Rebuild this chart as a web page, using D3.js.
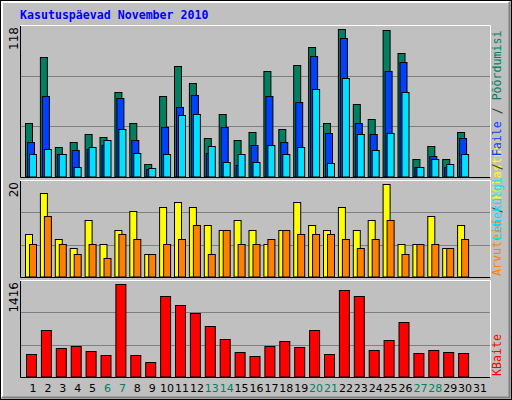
<!DOCTYPE html>
<html><head><meta charset="utf-8">
<script src="https://cdn.jsdelivr.net/npm/d3@7"></script>
<style>body{margin:0;background:#fff}</style></head>
<body><svg id="c" width="512" height="400"></svg>
<script>
const days = d3.range(1,32);
const weekend = [6,7,13,14,20,21,27,28];
const hits  = [42,93,23,27,33,31,66,42,10,63,86,73,30,49,29,35,82,37,87,101,42,115,57,45,114,96,14,24,14,35];
const files = [27,63,18,21,22,25,61,29,6,39,54,64,19,39,9,25,63,27,58,94,34,108,42,33,82,89,8,16,8,30];
const pages = [18,22,18,8,23,29,37,19,7,18,48,49,24,12,18,12,25,18,23,68,11,77,33,21,34,66,8,14,10,18];
const visits= [8.8,17.3,7.8,5.9,11.7,6.9,9.6,13.6,4.8,14.4,15.4,14.4,10.7,9.6,11.7,9.6,6.9,9.6,15.4,10.7,9.6,14.4,9.6,11.7,19.2,6.9,6.9,12.5,5.9,10.7];
const hosts = [6.9,12.5,6.9,4.8,6.9,4.0,8.8,7.8,4.8,6.9,7.8,10.7,4.8,9.6,6.9,6.9,7.8,9.6,8.8,8.8,8.8,7.8,5.9,7.8,11.7,4.8,6.9,6.9,5.9,7.8];
const kbytes= [339,679,428,457,383,324,1357,324,221,1180,1047,929,738,561,369,310,457,531,442,693,339,1269,1180,398,546,797,354,398,369,354];
const maxLabels = ["118","20","1416"];
const maxVals = [118,20,1416];

const svg = d3.select("#c");
svg.append("rect").attr("x",0.5).attr("y",0.5).attr("width",511).attr("height",399).attr("fill","#c0c0c0").attr("stroke","#000");
svg.append("path").attr("d","M2,397V2H509").attr("fill","none").attr("stroke","#fff").attr("stroke-width",2);
svg.append("path").attr("d","M2,397.5H509.5V2").attr("fill","none").attr("stroke","#808080").attr("stroke-width",2);
svg.append("text").attr("x",20).attr("y",19).text("Kasutuspäevad November 2010")
  .attr("font-family","DejaVu Sans Mono").attr("font-weight","bold").attr("font-size",11.6).attr("fill","#0000ff");

const x = d3.scalePoint().domain(days).range([33,480]);
const L=20,R=490;
const panels=[{t:25,b:177},{t:180,b:277},{t:280,b:377}];
const ys = panels.map((p,i)=>d3.scaleLinear().domain([0,maxVals[i]]).range([p.b,p.t]));

panels.forEach((p,i)=>{
  const g=svg.append("g");
  [1/3,2/3].forEach(f=>g.append("line").attr("x1",L).attr("x2",R)
    .attr("y1",Math.round(ys[i](maxVals[i]*f))+0.5).attr("y2",Math.round(ys[i](maxVals[i]*f))+0.5).attr("stroke","#808080"));
  g.append("path").attr("d",`M${L+0.5},${p.t}V${p.b+0.5}H${R}`).attr("fill","none").attr("stroke","#000");
  g.append("path").attr("d",`M${L},${p.t+0.5}H${R+0.5}V${p.b}`).attr("fill","none").attr("stroke","#fff");
  g.append("text").attr("transform",`translate(18,${p.t+2}) rotate(-90)`).attr("text-anchor","end")
    .attr("font-family","DejaVu Sans").attr("font-size",12).attr("fill","#000").text(maxLabels[i]);
});

function bars(data, yi, off, w, color){
  svg.append("g").selectAll("rect").data(data).join("rect")
    .attr("x",(d,i)=>x(i+1)+off+0.5).attr("width",w)
    .attr("y",d=>Math.round(ys[yi](d))+0.5).attr("height",d=>ys[yi](0)-Math.round(ys[yi](d))-0.5)
    .attr("fill",color).attr("stroke","#000");
}
bars(hits,0,-8,7,"#008060");
bars(files,0,-6,7,"#0040ff");
bars(pages,0,-4,7,"#00e0ff");
bars(visits,1,-8,7,"#ffff00");
bars(hosts,1,-4,7,"#ff8000");
bars(kbytes,2,-7,10,"#ff0000");

svg.append("g").selectAll("text").data(days).join("text")
  .attr("x",d=>x(d)).attr("y",392).attr("text-anchor","middle")
  .attr("font-family","DejaVu Sans").attr("font-size",11)
  .attr("fill",d=>weekend.includes(d)?"#008060":"#000").text(d=>d);

function legend(yb, parts){
  const t=svg.append("text").attr("transform",`translate(501,${yb}) rotate(-90)`)
    .attr("font-family","DejaVu Sans Mono").attr("font-size",11.6);
  parts.forEach(([s,c])=>t.append("tspan").attr("fill",c).text(s));
}
legend(276,[["Arvuteid","#ff8000"],[" / ","#404040"],["Külastusi","#ffff00"]]);
legend(240,[["Lehekülgi","#00e0ff"],[" / ","#404040"],["Faile","#0040ff"],[" / ","#404040"],["Põõrdumisi","#008060"]]);
legend(376,[["KBaite","#ff0000"]]);
</script></body></html>
